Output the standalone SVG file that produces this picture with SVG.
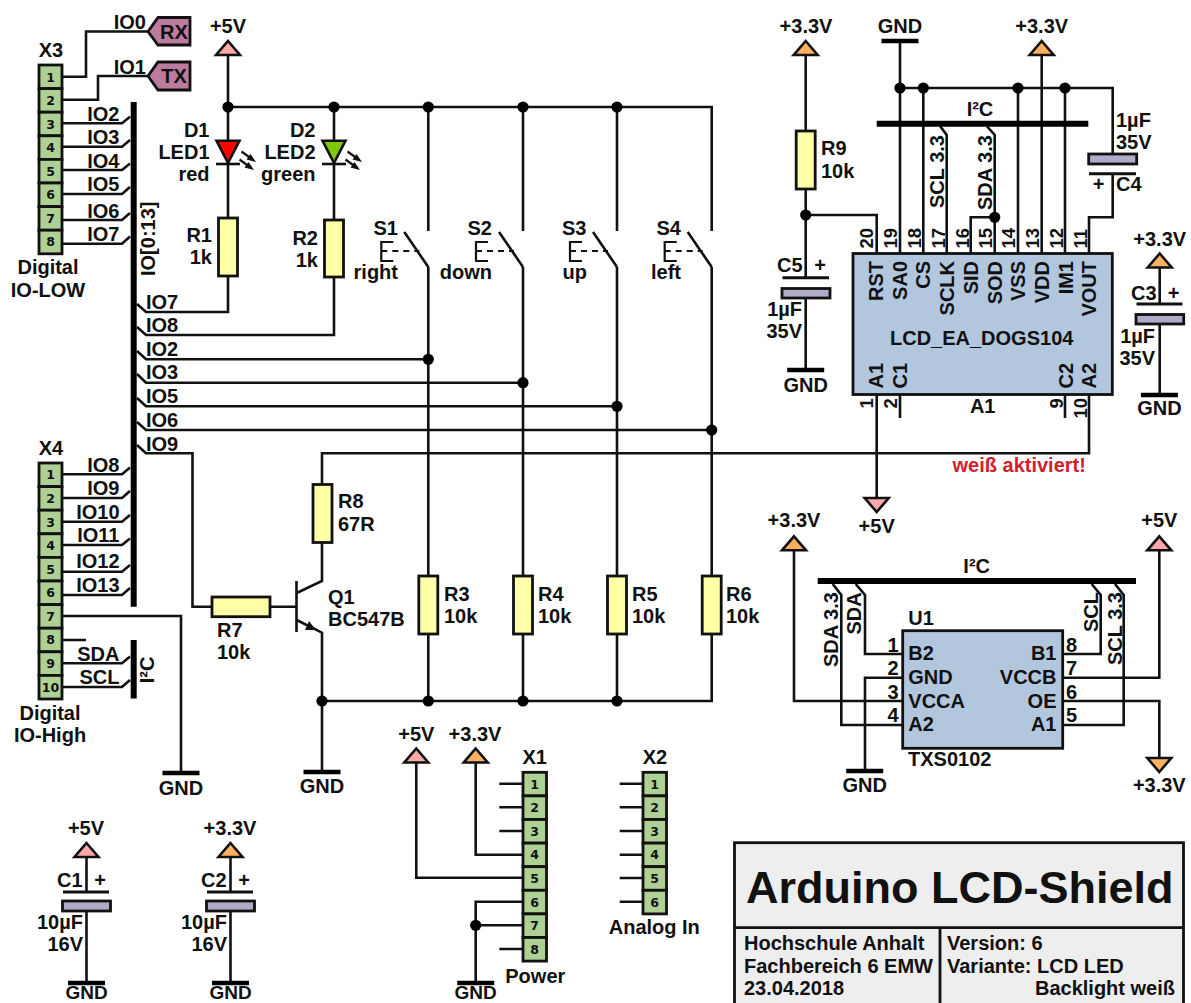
<svg xmlns="http://www.w3.org/2000/svg" xmlns:xlink="http://www.w3.org/1999/xlink" width="1191" height="1003" viewBox="0 0 1191 1003">
<style>
text{font-family:"Liberation Sans",Arial,sans-serif;font-weight:700;font-size:20px;fill:#111}
.m{text-anchor:middle}.e{text-anchor:end}
.n{font-family:"DejaVu Sans",sans-serif;font-size:12.5px;text-anchor:middle}
.p{font-size:18.5px}
.b{font-size:19px}
.w{fill:none;stroke:#111;stroke-width:2.6;stroke-linejoin:miter}
.th{stroke:#111;stroke-width:3;fill:none}
.bus{stroke:#000;stroke-width:6;fill:none}
.res{fill:#ffffa8;stroke:#111;stroke-width:2.8}
.cap{fill:#b0aac6;stroke:#111;stroke-width:2.8}
.cell{fill:#aed095;stroke:#111;stroke-width:2.8}
.ic{fill:#b2c6de;stroke:#111;stroke-width:2.8}
.tag{fill:#bd7b9d;stroke:#111;stroke-width:2.8}
.v5{fill:#ffa8a8;stroke:#111;stroke-width:2.6}
.v3{fill:#ffb060;stroke:#111;stroke-width:2.6}
.tb{fill:#eeeeee;stroke:#111;stroke-width:2.8}
</style>
<defs>
<circle id="dot" r="5.6" fill="#000"/>
<polygon id="up" points="0,-14 12,0 -12,0"/>
<polygon id="down" points="0,14 12,0 -12,0"/>
<g id="gnd"><path d="M-18.5,0H18.5" class="bus" style="stroke-width:4.6"/></g>
<g id="sw"><path class="w" d="M-24,-35L0,0"/><path class="w" style="stroke-width:2.2" d="M-35,-25H-47V-6H-35"/><path class="w" style="stroke-width:2.2" stroke-dasharray="6 5" d="M-47,-16H-9"/></g>
<g id="ledarrows"><path class="w" style="stroke-width:2.2" d="M0,0L11,8"/><polygon points="14.5,10.5 5,8 9,2.5" fill="#111"/><path class="w" style="stroke-width:2.2" d="M-2,8L9,16"/><polygon points="12.5,18.5 3,16 7,10.5" fill="#111"/></g>
</defs>

<g id="connectors">
<path class="w" d="M62,76.7H86V31.5H148M62,99.7H98V76H148"/>
<path class="w" d="M62,123.3H122L130,116.7M62,146.7H122L130,140M62,170H122L130,163.5M62,194H122L130,187M62,220H122L130,213M62,243.7H122L130,236.5"/>
<path class="w" d="M62,474.3H122L130,467.5M62,498H122L130,491M62,521.7H122L130,515M62,545H122L130,538.5M62,571.7H122L130,565M62,595H122L130,588"/>
<path class="w" d="M62,616H181V772M62,640H86M62,663.3H122L130,656.5M62,687H122L130,680"/>
<path class="bus" d="M133.7,102V606.7M133.7,640V698.5"/>
<path class="w" d="M228,55V218M228,276V312H146L137,304M334,107V220M334,277V335H146L137,327"/>
<path class="w" d="M228,107H711.7V231M428.3,107V231M523,107V231M617,107V231"/>
<path class="w" d="M428.3,267V701M523,267V701M617,267V701M711.7,267V701H322"/>
<path class="w" d="M137,351L146,359.3H428.3M137,374L146,382.7H523M137,398L146,406.3H617M137,422L146,430H711.7"/>
<path class="w" d="M137,445L146,453.3H192.5V606.7H212M270,606.7H296M322,484V453.3H1089V395M322,543V581L296.7,593M296.7,620L322,632.7V772"/>
<path class="w" d="M296.5,581V632"/>
<polygon points="316,630 305,630 309,621" fill="#111"/>
<path class="w" d="M805.7,55V131M805.7,189V278M805.7,298V370M805.7,215H876.7V253"/>
<path class="w" d="M900,41V253M900,88H1112.7V154M923.3,88V253M1018,88V253M1065,88V253M1041.7,55V253M1112.7,174V217.3H1089V253"/>
<path class="bus" d="M876.7,123.7H1088.3"/>
<path class="w" d="M940,126L946.7,135V253M986.7,126L994.7,135V253M994.7,217.3H970.7V253"/>
<path class="w" d="M876.7,395V498M900,395V418M1065,395V418"/>
<path class="w" d="M1159.7,267V304M1159.7,324V395"/>
<path class="bus" d="M817.7,581H1136"/>
<path class="w" d="M832.7,584L841.3,595V725H902.7M855.7,584L865,595V654H902.7M1091.7,584L1100.7,595V654H1062.7M1115,584L1123.7,595V725H1062.7"/>
<path class="w" d="M794,550V701H902.7M1159.3,550V677.7H1062.7M1062.7,701H1159.3V758M902.7,677.7H865V771"/>
<path class="w" d="M499.3,783.7H523M499.3,807.3H523M499.3,831H523M475.7,762V854.7H523M416.3,762V877.7H523M523,901.7H475.7V983M475.7,925.3H523M499.3,949H523"/>
<path class="w" d="M619.7,783.7H643M619.7,807.3H643M619.7,831H643M619.7,854.7H643M619.7,878H643M619.7,901.7H643"/>
<path class="w" d="M86.5,857V892M86.5,911V983M230.5,857V892M230.5,911V983"/>
<use xlink:href="#dot" x="228" y="107"/><use xlink:href="#dot" x="334" y="107"/><use xlink:href="#dot" x="428.3" y="107"/><use xlink:href="#dot" x="523" y="107"/><use xlink:href="#dot" x="617" y="107"/>
<use xlink:href="#dot" x="428.3" y="359.3"/><use xlink:href="#dot" x="523" y="382.7"/><use xlink:href="#dot" x="617" y="406.3"/><use xlink:href="#dot" x="711.7" y="430"/>
<use xlink:href="#dot" x="322" y="701"/><use xlink:href="#dot" x="428.3" y="701"/><use xlink:href="#dot" x="523" y="701"/><use xlink:href="#dot" x="617" y="701"/>
<use xlink:href="#dot" x="805.7" y="215"/><use xlink:href="#dot" x="900" y="88"/><use xlink:href="#dot" x="923.3" y="88"/><use xlink:href="#dot" x="1018" y="88"/><use xlink:href="#dot" x="1065" y="88"/><use xlink:href="#dot" x="994.7" y="217.3"/>
<use xlink:href="#dot" x="475.7" y="925.3"/>
</g>

<g id="X3">
<rect class="cell" x="39" y="65" width="23" height="23.6"/><rect class="cell" x="39" y="88.6" width="23" height="23.6"/><rect class="cell" x="39" y="112.2" width="23" height="23.6"/><rect class="cell" x="39" y="135.8" width="23" height="23.6"/><rect class="cell" x="39" y="159.4" width="23" height="23.6"/><rect class="cell" x="39" y="183" width="23" height="23.6"/><rect class="cell" x="39" y="206.6" width="23" height="23.6"/><rect class="cell" x="39" y="230.2" width="23" height="23.6"/>
<text class="n" x="50.5" y="81.5">1</text><text class="n" x="50.5" y="104.5">2</text><text class="n" x="50.5" y="128.5">3</text><text class="n" x="50.5" y="151.5">4</text><text class="n" x="50.5" y="175.5">5</text><text class="n" x="50.5" y="199">6</text><text class="n" x="50.5" y="222.5">7</text><text class="n" x="50.5" y="246">8</text>
<text class="m" x="51" y="57">X3</text><text class="m" x="48" y="274">Digital</text><text class="m" x="48" y="297">IO-LOW</text>
<text class="e" x="119.5" y="120.5">IO2</text><text class="e" x="119.5" y="144">IO3</text><text class="e" x="119.5" y="168">IO4</text><text class="e" x="119.5" y="191">IO5</text><text class="e" x="119.5" y="217.5">IO6</text><text class="e" x="119.5" y="240.5">IO7</text>
</g>
<g id="RX"><polygon class="tag" points="148,31.5 158,17.5 190,17.5 190,45 158,45"/><text class="m" x="174" y="38.5">RX</text><text class="e" x="146" y="29">IO0</text></g>
<g id="TX"><polygon class="tag" points="148,76 158,62 190,62 190,90 158,90"/><text class="m" x="174" y="83">TX</text><text class="e" x="146" y="74">IO1</text></g>
<g id="bus-labels">
<text transform="translate(154.5,276) rotate(-90)">IO[0:13]</text>
<text x="146" y="309">IO7</text><text x="146" y="332">IO8</text><text x="146" y="356">IO2</text><text x="146" y="379">IO3</text><text x="146" y="403">IO5</text><text x="146" y="427">IO6</text><text x="146" y="451">IO9</text>
<text class="m" transform="translate(154,670) rotate(-90)">I²C</text>
</g>
<g id="X4">
<rect class="cell" x="39" y="463" width="23" height="23.6"/><rect class="cell" x="39" y="486.6" width="23" height="23.6"/><rect class="cell" x="39" y="510.2" width="23" height="23.6"/><rect class="cell" x="39" y="533.8" width="23" height="23.6"/><rect class="cell" x="39" y="557.4" width="23" height="23.6"/><rect class="cell" x="39" y="581" width="23" height="23.6"/><rect class="cell" x="39" y="604.6" width="23" height="23.6"/><rect class="cell" x="39" y="628.2" width="23" height="23.6"/><rect class="cell" x="39" y="651.8" width="23" height="23.6"/><rect class="cell" x="39" y="675.4" width="23" height="23.6"/>
<text class="n" x="50.5" y="479">1</text><text class="n" x="50.5" y="503">2</text><text class="n" x="50.5" y="526.5">3</text><text class="n" x="50.5" y="550">4</text><text class="n" x="50.5" y="573.5">5</text><text class="n" x="50.5" y="597">6</text><text class="n" x="50.5" y="620.5">7</text><text class="n" x="50.5" y="644">8</text><text class="n" x="50.5" y="668">9</text><text class="n" x="50.5" y="691.5">10</text>
<text class="m" x="51" y="455">X4</text><text class="m" x="50" y="720">Digital</text><text class="m" x="50" y="742">IO-High</text>
<text class="e" x="119.5" y="472">IO8</text><text class="e" x="119.5" y="495">IO9</text><text class="e" x="119.5" y="518.5">IO10</text><text class="e" x="119.5" y="542">IO11</text><text class="e" x="119.5" y="568">IO12</text><text class="e" x="119.5" y="591.5">IO13</text><text class="e" x="119.5" y="660.5">SDA</text><text class="e" x="119.5" y="684">SCL</text>
</g>
<g id="GND-X4"><use xlink:href="#gnd" x="181" y="773"/><text class="m" x="181" y="795">GND</text></g>
<g id="P5V-D"><use xlink:href="#up" class="v5" x="228" y="55"/><text class="m" x="228" y="33">+5V</text></g>
<g id="D1"><polygon points="216.5,140.7 239.5,140.7 228,163" fill="#f00" stroke="#111" stroke-width="2.6"/><path class="w" d="M216,164H240"/><use xlink:href="#ledarrows" x="241.5" y="151.5"/><text class="e" x="209.5" y="137">D1</text><text class="e" x="209.5" y="159">LED1</text><text class="e" x="209.5" y="181">red</text></g>
<g id="D2"><polygon points="322.5,140.7 345.5,140.7 334,163" fill="#7fc80a" stroke="#111" stroke-width="2.6"/><path class="w" d="M322,164H346"/><use xlink:href="#ledarrows" x="347.5" y="151.5"/><text class="e" x="315.5" y="137">D2</text><text class="e" x="315.5" y="159">LED2</text><text class="e" x="315.5" y="181">green</text></g>
<g id="R1"><rect class="res" x="218.5" y="218" width="19" height="58"/><text class="e" x="212" y="242">R1</text><text class="e" x="212" y="264">1k</text></g>
<g id="R2"><rect class="res" x="324.5" y="220" width="19" height="57"/><text class="e" x="318" y="245">R2</text><text class="e" x="318" y="267">1k</text></g>
<g id="S1"><use xlink:href="#sw" x="428.3" y="267"/><text class="e" x="398" y="235">S1</text><text class="e" x="398" y="279">right</text></g>
<g id="S2"><use xlink:href="#sw" x="523" y="267"/><text class="e" x="492" y="235">S2</text><text class="e" x="492" y="279">down</text></g>
<g id="S3"><use xlink:href="#sw" x="617" y="267"/><text class="e" x="586.5" y="235">S3</text><text class="e" x="587" y="279">up</text></g>
<g id="S4"><use xlink:href="#sw" x="711.7" y="267"/><text class="e" x="681" y="235">S4</text><text class="e" x="681" y="279">left</text></g>
<g id="R3"><rect class="res" x="418.8" y="576" width="19" height="58"/><text x="444" y="601">R3</text><text x="444" y="623">10k</text></g>
<g id="R4"><rect class="res" x="513.5" y="576" width="19" height="58"/><text x="538" y="601">R4</text><text x="538" y="623">10k</text></g>
<g id="R5"><rect class="res" x="607.5" y="576" width="19" height="58"/><text x="632" y="601">R5</text><text x="632" y="623">10k</text></g>
<g id="R6"><rect class="res" x="702.2" y="576" width="19" height="58"/><text x="726" y="601">R6</text><text x="726" y="623">10k</text></g>
<g id="R7"><rect class="res" x="212" y="597" width="58" height="19.7"/><text x="217" y="637">R7</text><text x="217" y="659">10k</text></g>
<g id="R8"><rect class="res" x="313" y="484.5" width="19" height="58"/><text x="338" y="508">R8</text><text x="338" y="531">67R</text></g>
<g id="Q1"><text x="328" y="604">Q1</text><text x="328" y="626">BC547B</text></g>
<g id="GND-Q1"><use xlink:href="#gnd" x="322" y="772"/><text class="m" x="322" y="793">GND</text></g>

<g id="P33-R9"><use xlink:href="#up" class="v3" x="805.7" y="55"/><text class="m" x="806" y="33">+3.3V</text></g>
<g id="R9"><rect class="res" x="796.2" y="131" width="19" height="58"/><text x="821" y="155">R9</text><text x="821" y="178">10k</text></g>
<g id="C5"><path class="th" d="M782.5,277.7H829"/><rect class="cap" x="782" y="288.5" width="48" height="9.5"/><text x="777" y="272">C5</text><text class="m" x="820" y="272">+</text><text class="e" x="802" y="316">1µF</text><text class="e" x="802" y="338">35V</text></g>
<g id="GND-C5"><use xlink:href="#gnd" x="805.7" y="370"/><text class="m" x="805.7" y="392">GND</text></g>
<g id="GND-top"><use xlink:href="#gnd" x="900" y="41"/><text class="m" x="900" y="33">GND</text></g>
<g id="P33-top"><use xlink:href="#up" class="v3" x="1041.7" y="55"/><text class="m" x="1041.7" y="33">+3.3V</text></g>
<g id="C4"><rect class="cap" x="1088.7" y="154" width="48" height="10"/><path class="th" d="M1089,173.7H1136"/><text x="1116" y="127">1µF</text><text x="1116" y="148.5">35V</text><text class="m" x="1098.5" y="191">+</text><text x="1116" y="191">C4</text></g>
<g id="A1">
<rect class="ic" x="853" y="253.5" width="259.3" height="141"/>
<text class="m" x="980" y="115.7">I²C</text>
<text transform="translate(944,208) rotate(-90)">SCL 3.3</text><text transform="translate(991.7,210) rotate(-90)">SDA 3.3</text>
<text class="p" transform="translate(873,248.5) rotate(-90)">20</text><text class="p" transform="translate(897.3,248.5) rotate(-90)">19</text><text class="p" transform="translate(921,248.5) rotate(-90)">18</text><text class="p" transform="translate(945,248.5) rotate(-90)">17</text><text class="p" transform="translate(968.5,248.5) rotate(-90)">16</text><text class="p" transform="translate(991.7,248.5) rotate(-90)">15</text><text class="p" transform="translate(1015,248.5) rotate(-90)">14</text><text class="p" transform="translate(1038.5,248.5) rotate(-90)">13</text><text class="p" transform="translate(1062.7,248.5) rotate(-90)">12</text><text class="p" transform="translate(1086.7,248.5) rotate(-90)">11</text>
<text class="e" transform="translate(883.3,261) rotate(-90)">RST</text><text class="e" transform="translate(906.7,261) rotate(-90)">SA0</text><text class="e" transform="translate(930,261) rotate(-90)">CS</text><text class="e" transform="translate(954.3,261) rotate(-90)">SCLK</text><text class="e" transform="translate(978.3,261) rotate(-90)">SID</text><text class="e" transform="translate(1001.7,261) rotate(-90)">SOD</text><text class="e" transform="translate(1025,261) rotate(-90)">VSS</text><text class="e" transform="translate(1049.3,261) rotate(-90)">VDD</text><text class="e" transform="translate(1072.7,261) rotate(-90)">IM1</text><text class="e" transform="translate(1096,261) rotate(-90)">VOUT</text>
<text transform="translate(883.3,388.5) rotate(-90)">A1</text><text transform="translate(906.7,388.5) rotate(-90)">C1</text><text transform="translate(1072.7,388.5) rotate(-90)">C2</text><text transform="translate(1096,388.5) rotate(-90)">A2</text>
<text class="m" x="981.7" y="345">LCD_EA_DOGS104</text>
<text class="p" transform="translate(873,408.5) rotate(-90)">1</text><text class="p" transform="translate(897.3,408.5) rotate(-90)">2</text><text class="p" transform="translate(1062.7,408.5) rotate(-90)">9</text><text class="p" transform="translate(1086.7,418.5) rotate(-90)">10</text>
<text class="m" x="982.7" y="412.7">A1</text>
<text x="952.5" y="471.7" style="fill:#d2202c">weiß aktiviert!</text>
</g>
<g id="P5V-A1"><use xlink:href="#down" class="v5" x="876.7" y="498"/><text class="m" x="876.7" y="533">+5V</text></g>
<g id="C3"><use xlink:href="#up" class="v3" x="1159.7" y="267.5"/><text class="m" x="1159.7" y="245.5">+3.3V</text><path class="th" d="M1136.5,304H1182.5"/><rect class="cap" x="1136" y="314.5" width="47.7" height="9.5"/><text x="1131" y="299.5">C3</text><text class="m" x="1173.5" y="299.5">+</text><text class="e" x="1155" y="343">1µF</text><text class="e" x="1155" y="364.5">35V</text></g>
<g id="GND-C3"><use xlink:href="#gnd" x="1159.4" y="395"/><text class="m" x="1159.4" y="415">GND</text></g>

<g id="U1">
<rect class="ic" x="902.7" y="630.7" width="160" height="117.6"/>
<text class="m" x="976.7" y="572.7">I²C</text>
<text x="908.3" y="625">U1</text><text x="908" y="766">TXS0102</text>
<text x="908.3" y="660">B2</text><text x="908.3" y="684">GND</text><text x="908.3" y="707.7">VCCA</text><text x="908.3" y="731">A2</text>
<text class="e" x="1056.5" y="660">B1</text><text class="e" x="1056.5" y="684">VCCB</text><text class="e" x="1056.5" y="707.7">OE</text><text class="e" x="1056.5" y="731">A1</text>
<text class="e" x="898.5" y="651.7">1</text><text class="e" x="898.5" y="675">2</text><text class="e" x="898.5" y="699">3</text><text class="e" x="898.5" y="722.3">4</text>
<text x="1066" y="651.7">8</text><text x="1066" y="675">7</text><text x="1066" y="699">6</text><text x="1066" y="721.7">5</text>
<text transform="translate(837.7,667) rotate(-90)">SDA 3.3</text><text transform="translate(861,634.5) rotate(-90)">SDA</text><text transform="translate(1098.3,632) rotate(-90)">SCL</text><text transform="translate(1121.7,665) rotate(-90)">SCL 3.3</text>
</g>
<g id="P33-U1"><use xlink:href="#up" class="v3" x="794" y="550.3"/><text class="m" x="794" y="527.3">+3.3V</text></g>
<g id="P5V-U1"><use xlink:href="#up" class="v5" x="1159.3" y="550.3"/><text class="m" x="1159.3" y="527.3">+5V</text></g>
<g id="P33-OE"><use xlink:href="#down" class="v3" x="1159.3" y="758"/><text class="m" x="1159.3" y="792">+3.3V</text></g>
<g id="GND-U1"><use xlink:href="#gnd" x="864.7" y="771"/><text class="m" x="864.7" y="792">GND</text></g>

<g id="X1">
<rect class="cell" x="523" y="772.3" width="23.5" height="23.6"/><rect class="cell" x="523" y="795.9" width="23.5" height="23.6"/><rect class="cell" x="523" y="819.5" width="23.5" height="23.6"/><rect class="cell" x="523" y="843.1" width="23.5" height="23.6"/><rect class="cell" x="523" y="866.7" width="23.5" height="23.6"/><rect class="cell" x="523" y="890.3" width="23.5" height="23.6"/><rect class="cell" x="523" y="913.9" width="23.5" height="23.6"/><rect class="cell" x="523" y="937.5" width="23.5" height="23.6"/>
<text class="n" x="534.5" y="788.5">1</text><text class="n" x="534.5" y="812">2</text><text class="n" x="534.5" y="835.5">3</text><text class="n" x="534.5" y="859">4</text><text class="n" x="534.5" y="883">5</text><text class="n" x="534.5" y="906.5">6</text><text class="n" x="534.5" y="930">7</text><text class="n" x="534.5" y="953.5">8</text>
<text class="m" x="534.7" y="764.3">X1</text><text class="m" x="535.3" y="982.7">Power</text>
</g>
<g id="X2">
<rect class="cell" x="643" y="772.3" width="23.5" height="23.6"/><rect class="cell" x="643" y="795.9" width="23.5" height="23.6"/><rect class="cell" x="643" y="819.5" width="23.5" height="23.6"/><rect class="cell" x="643" y="843.1" width="23.5" height="23.6"/><rect class="cell" x="643" y="866.7" width="23.5" height="23.6"/><rect class="cell" x="643" y="890.3" width="23.5" height="23.6"/>
<text class="n" x="654.5" y="788.5">1</text><text class="n" x="654.5" y="812">2</text><text class="n" x="654.5" y="835.5">3</text><text class="n" x="654.5" y="859">4</text><text class="n" x="654.5" y="883">5</text><text class="n" x="654.5" y="906.5">6</text>
<text class="m" x="655" y="764.3">X2</text><text class="m" x="654.3" y="934">Analog In</text>
</g>
<g id="P5V-X1"><use xlink:href="#up" class="v5" x="416.3" y="762.5"/><text class="m" x="416.3" y="740.7">+5V</text></g>
<g id="P33-X1"><use xlink:href="#up" class="v3" x="475.7" y="762.5"/><text class="m" x="475" y="740.7">+3.3V</text></g>
<g id="GND-X1"><use xlink:href="#gnd" x="475.7" y="983"/><text class="m b" x="475.7" y="998.8">GND</text></g>

<g id="C1"><use xlink:href="#up" class="v5" x="86.5" y="857"/><text class="m" x="86" y="835">+5V</text><path class="th" d="M63,892H109"/><rect class="cap" x="62.5" y="901" width="48" height="10"/><text x="57" y="887">C1</text><text class="m" x="100" y="887">+</text><text class="e" x="83" y="929">10µF</text><text class="e" x="83" y="951">16V</text><use xlink:href="#gnd" x="86.5" y="983"/><text class="m b" x="86.5" y="998.8">GND</text></g>
<g id="C2"><use xlink:href="#up" class="v3" x="230.5" y="857"/><text class="m" x="230" y="835">+3.3V</text><path class="th" d="M207,892H253"/><rect class="cap" x="206.5" y="901" width="48" height="10"/><text x="201" y="887">C2</text><text class="m" x="244" y="887">+</text><text class="e" x="227" y="929">10µF</text><text class="e" x="227" y="951">16V</text><use xlink:href="#gnd" x="230.5" y="983"/><text class="m b" x="230.5" y="998.8">GND</text></g>

<g id="titleblock">
<rect class="tb" x="734.5" y="842.7" width="449" height="170"/>
<path class="w" style="stroke-width:2.8" d="M734.5,927.7H1183.5M940,927.7V1010"/>
<text x="746" y="903.3" style="font-size:45px">Arduino LCD-Shield</text>
<text x="744" y="950">Hochschule Anhalt</text><text x="744" y="972.7">Fachbereich 6 EMW</text><text x="744" y="995">23.04.2018</text>
<text x="947" y="950">Version: 6</text><text x="947" y="972.7">Variante: LCD LED</text><text class="e" x="1175" y="995">Backlight weiß</text>
</g>
</svg>
